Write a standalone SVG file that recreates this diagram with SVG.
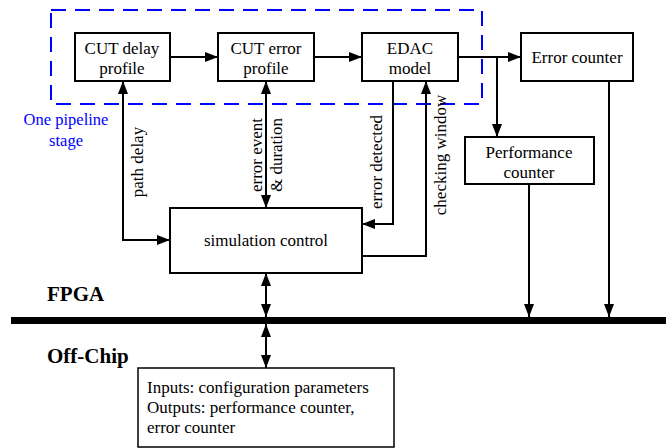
<svg xmlns="http://www.w3.org/2000/svg" width="666" height="448" viewBox="0 0 666 448">
<style>
.box{fill:#fff;stroke:#000;stroke-width:2}
.t{font-family:"Liberation Serif","Times New Roman",serif;font-size:17px;fill:#000;text-anchor:middle}
.s{font-family:"Liberation Serif","Times New Roman",serif;font-size:17px;fill:#000}
.b{font-family:"Liberation Serif","Times New Roman",serif;font-size:21px;font-weight:bold;fill:#000}
.c{fill:none;stroke:#000;stroke-width:2}
</style>
<defs>
<marker id="a" markerUnits="userSpaceOnUse" markerWidth="14" markerHeight="10" refX="13" refY="5" orient="auto-start-reverse"><path d="M0,0 L13,5 L0,10 z" fill="#000"/></marker>
</defs>
<rect id="stage" x="51" y="10" width="431" height="94" fill="none" stroke="#0000ff" stroke-width="2" stroke-dasharray="15,9"/>
<g id="stage-label" font-family="Liberation Serif, Times New Roman, serif" font-size="16.5" fill="#0000ff" text-anchor="middle">
<text x="66" y="125">One pipeline</text>
<text x="66" y="146">stage</text>
</g>
<g id="connectors">
<path class="c" d="M170,57 H218" marker-end="url(#a)"/>
<path class="c" d="M314,57 H362" marker-end="url(#a)"/>
<path class="c" d="M458,57 H521" marker-end="url(#a)"/>
<path class="c" d="M497,57 V137" marker-end="url(#a)"/>
<path class="c" d="M123,81 V240 H170" marker-start="url(#a)" marker-end="url(#a)"/>
<path class="c" d="M266,81 V208" marker-start="url(#a)" marker-end="url(#a)"/>
<path class="c" d="M393,81 V224 H362" marker-end="url(#a)"/>
<path class="c" d="M362,256 H426 V81" marker-end="url(#a)"/>
<path class="c" d="M266,273 V317" marker-start="url(#a)" marker-end="url(#a)"/>
<path class="c" d="M266,324 V368" marker-start="url(#a)" marker-end="url(#a)"/>
<path class="c" d="M529,184 V317" marker-end="url(#a)"/>
<path class="c" d="M609,81 V317" marker-end="url(#a)"/>
<line x1="11" y1="320.5" x2="666" y2="320.5" stroke="#000" stroke-width="7"/>
<text class="s" text-anchor="middle" transform="translate(143,162) rotate(-90)">path delay</text>
<text class="s" text-anchor="middle" transform="translate(262,155) rotate(-90)">error event</text>
<text class="s" text-anchor="middle" transform="translate(282,155) rotate(-90)">&amp; duration</text>
<text class="s" text-anchor="middle" transform="translate(382,162) rotate(-90)">error detected</text>
<text class="s" text-anchor="middle" transform="translate(446,155) rotate(-90)">checking window</text>
</g>
<g id="cut-delay"><rect class="box" x="75" y="33" width="95" height="48"/><text class="t" x="122" y="54">CUT delay</text><text class="t" x="122" y="74">profile</text></g>
<g id="cut-error"><rect class="box" x="218" y="33" width="96" height="48"/><text class="t" x="266" y="54">CUT error</text><text class="t" x="266" y="74">profile</text></g>
<g id="edac"><rect class="box" x="362" y="33" width="96" height="48"/><text class="t" x="410" y="54">EDAC</text><text class="t" x="410" y="74">model</text></g>
<g id="error-counter"><rect class="box" x="521" y="33" width="112" height="48"/><text class="t" x="577" y="63">Error counter</text></g>
<g id="perf-counter"><rect class="box" x="465" y="137" width="129" height="47"/><text class="t" x="529" y="158">Performance</text><text class="t" x="529" y="178">counter</text></g>
<g id="sim-control"><rect class="box" x="170" y="208" width="192" height="65"/><text class="t" x="266" y="246">simulation control</text></g>
<g id="labels"><text class="b" x="47" y="301">FPGA</text><text class="b" x="47" y="363">Off-Chip</text></g>
<g id="offchip"><rect x="138" y="368" width="256" height="79" fill="#fff" stroke="#000" stroke-width="1.5"/>
<text class="s" x="147" y="393">Inputs: configuration parameters</text>
<text class="s" x="147" y="413">Outputs: performance counter,</text>
<text class="s" x="147" y="433">error counter</text></g>
</svg>
